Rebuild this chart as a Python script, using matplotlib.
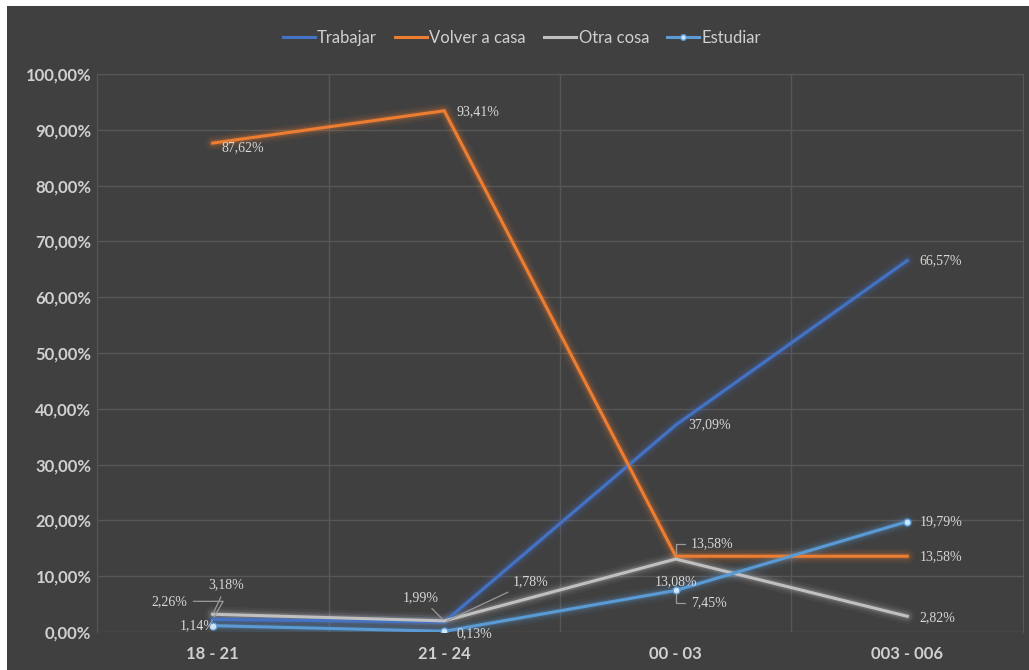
import matplotlib
matplotlib.use('Agg')
import matplotlib.pyplot as plt
from matplotlib.patches import Rectangle

# franjas horarias y porcentajes por respuesta
franjas = ['18 - 21', '21 - 24', '00 - 03', '003 - 006']
trabajar = [2.26, 1.78, 37.09, 66.57]
volver_casa = [87.62, 93.41, 13.58, 13.58]
otra_cosa = [3.18, 1.99, 13.08, 2.82]
estudiar = [1.14, 0.13, 7.45, 19.79]

BG = '#404040'
GRID = '#575757'
TXT = '#d0d0d0'

plt.rcParams['font.family'] = ['Lato', 'DejaVu Sans']

fig = plt.figure(figsize=(10.29, 6.7), dpi=100)
fig.patch.set_facecolor('white')
fig.patches.append(Rectangle((7 / 1029, 0), 1022 / 1029, 664 / 670,
                             transform=fig.transFigure, facecolor=BG,
                             edgecolor='none', zorder=-10))

ax = fig.add_axes([97 / 1029, 38 / 670, 926 / 1029, 558 / 670])
ax.set_facecolor(BG)

x = list(range(len(franjas)))

series = [
    ('Trabajar', trabajar, '#4472c4', None),
    ('Volver a casa', volver_casa, '#ed7d31', None),
    ('Otra cosa', otra_cosa, '#c0c0c0', None),
    ('Estudiar', estudiar, '#5b9bd5', 'o'),
]

handles = []
for name, vals, col, mk in series:
    # halo alrededor de cada línea
    for lw, a in [(11, 0.06), (7.5, 0.10), (4.5, 0.20)]:
        ax.plot(x, vals, color=col, lw=lw, alpha=a, solid_capstyle='round',
                solid_joinstyle='round', zorder=2)
    h, = ax.plot(x, vals, color=col, lw=2.2, zorder=3, label=name,
                 solid_joinstyle='miter')
    if mk:
        ax.plot(x, vals, linestyle='none', marker=mk, ms=5,
                mfc='#cfe6ff', mec=col, mew=1, zorder=4)
        h, = ax.plot([], [], color=col, lw=2.2, marker=mk, ms=4,
                     mfc='#cfe6ff', mec=col, label=name)
    handles.append(h)

lab_font = dict(family=['Liberation Serif', 'DejaVu Serif'], fontsize=10,
                color='#d8d8d8', va='center', zorder=6)


def fmt(v):
    return f'{v:.2f}%'.replace('.', ',')


RECTA = 'arc3,rad=0'
CODO = 'angle,angleA=0,angleB=90,rad=0'
DIAG = 'angle,angleA=0,angleB=60,rad=0'

# (valores, índice, desplazamiento en puntos, alineación, guía)
etiquetas = [
    (volver_casa, 0, (6, -3), 'left', None),
    (volver_casa, 1, (9, -1), 'left', None),
    (volver_casa, 2, (11, 9), 'left', CODO),
    (volver_casa, 3, (9, 0), 'left', None),
    (trabajar, 0, (-18, 13), 'right', DIAG),
    (trabajar, 1, (49, 29), 'left', RECTA),
    (trabajar, 2, (9, 0), 'left', None),
    (trabajar, 3, (9, 0), 'left', None),
    (otra_cosa, 0, (-3, 21), 'left', RECTA),
    (otra_cosa, 1, (-4, 17), 'right', RECTA),
    (otra_cosa, 2, (0, -16), 'center', None),
    (otra_cosa, 3, (9, -1), 'left', None),
    (estudiar, 0, (2, 0), 'right', None),
    (estudiar, 1, (9, -2), 'left', None),
    (estudiar, 2, (11, -9), 'left', CODO),
    (estudiar, 3, (9, 0), 'left', None),
]

for vals, i, off, ha, guia in etiquetas:
    extra = {}
    if guia:
        extra['arrowprops'] = dict(arrowstyle='-', color='#9a9a9a', lw=0.9,
                                   shrinkA=2, shrinkB=2,
                                   connectionstyle=guia)
    ax.annotate(fmt(vals[i]), xy=(i, vals[i]), xytext=off,
                textcoords='offset points', ha=ha, **extra, **lab_font)

ax.set_xlim(-0.5, 3.5)
ax.set_ylim(0, 100)
ax.set_yticks(range(0, 101, 10))
ax.set_yticklabels([f'{v},00%' for v in range(0, 101, 10)])
ax.set_xticks(x)
ax.set_xticklabels(franjas)
ax.set_xticks([0.5, 1.5, 2.5], minor=True)
ax.tick_params(axis='both', which='both', length=0, colors=TXT,
               labelsize=12)
ax.tick_params(axis='x', pad=10)
ax.tick_params(axis='y', pad=4)
for t in ax.get_xticklabels() + ax.get_yticklabels():
    t.set_fontweight('bold')

ax.grid(axis='y', color=GRID, lw=1, zorder=0)
ax.grid(axis='x', which='minor', color=GRID, lw=1, zorder=0)
for s in ['left', 'right', 'top']:
    ax.spines[s].set_color(GRID)
ax.spines['bottom'].set_visible(False)

leg = fig.legend(handles=handles, loc='center', ncol=4,
                 bbox_to_anchor=(522 / 1029, 632 / 670), frameon=False,
                 handlelength=1.9, handletextpad=0.15, columnspacing=1.1,
                 fontsize=12)
for t in leg.get_texts():
    t.set_color(TXT)

fig.savefig('out.png', dpi=100, facecolor=fig.get_facecolor())
